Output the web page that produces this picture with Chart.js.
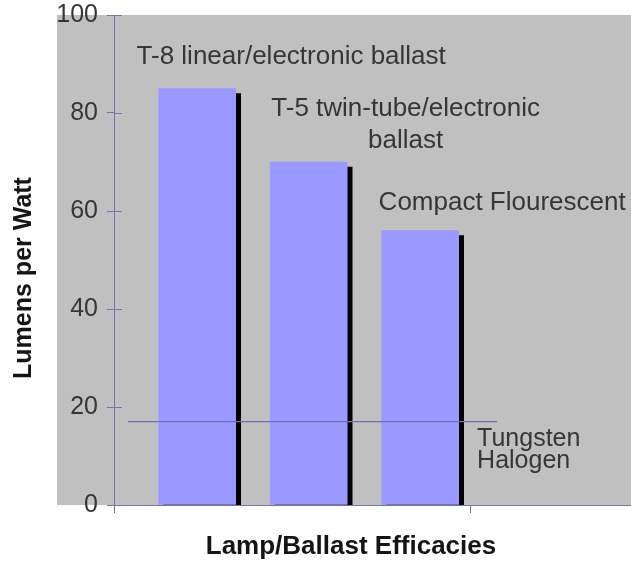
<!DOCTYPE html>
<html>
<head>
<meta charset="utf-8">
<script src="https://cdn.jsdelivr.net/npm/chart.js@4.4.1/dist/chart.umd.min.js"></script>
<style>
  html, body { margin: 0; padding: 0; background: #ffffff; }
  #wrap { width: 631px; height: 565px; position: relative; }
</style>
</head>
<body>
<div id="wrap"><canvas id="chart"></canvas></div>
<script>
// Lamp / ballast systems and their efficacy (lumens per watt)
const categories = ['T-8 linear/electronic ballast', 'T-5 twin-tube/electronic ballast', 'Compact Flourescent'];
const categoryLabelLines = [
  ['T-8 linear/electronic ballast'],
  ['T-5 twin-tube/electronic', 'ballast'],
  ['Compact Flourescent']
];
const efficacy = [85, 70, 56];

// Reference level for tungsten halogen lamps
const halogenLabelLines = ['Tungsten', 'Halogen'];
const halogenEfficacy = 17;
const halogenSpan = [0.38, 3.69];

// Axis ticks
const yTicks = [0, 20, 40, 60, 80, 100];
const xTickMarks = [3.45];

const yTitle = 'Lumens per Watt';
const xTitle = 'Lamp/Ballast Efficacies';

// Styling
const AXIS = '#7474ae';
const TEXT = '#363636';
const FONT = '"Liberation Sans", Arial, Helvetica, sans-serif';
const labelOffsets = [
  { dx: 94, dy: -32 },
  { dx: 97, dy: -53 },
  { dx: 82, dy: -28 }
];

const barData = categories.map((c, i) => ({ x: i + 1, y: efficacy[i] }));
const halogenData = halogenSpan.map(x => ({ x: x, y: halogenEfficacy }));

const plotDecor = {
  id: 'plotDecor',
  beforeDraw(chart) {
    const { ctx, chartArea: a } = chart;
    ctx.save();
    ctx.fillStyle = '#c0c0c0';
    ctx.fillRect(a.left - 57, a.top, chart.width - (a.left - 57), a.bottom - a.top);
    ctx.restore();
  },
  beforeDatasetDraw(chart, args) {
    if (args.index !== 0) return;
    const ctx = chart.ctx;
    ctx.save();
    ctx.shadowColor = '#000000';
    ctx.shadowOffsetX = 5;
    ctx.shadowOffsetY = 5;
    ctx.shadowBlur = 0;
  },
  afterDatasetDraw(chart, args) {
    if (args.index !== 0) return;
    chart.ctx.restore();
  },
  afterDraw(chart) {
    const { ctx, chartArea: a, scales: { x, y } } = chart;
    ctx.save();
    // inner halves of the value-axis tick marks
    ctx.strokeStyle = AXIS;
    ctx.lineWidth = 1;
    yTicks.forEach(v => {
      const py = Math.round(y.getPixelForValue(v)) + 0.5;
      ctx.beginPath();
      ctx.moveTo(a.left, py);
      ctx.lineTo(a.left + 8, py);
      ctx.stroke();
    });

    ctx.fillStyle = TEXT;
    ctx.textBaseline = 'middle';
    // bar captions
    ctx.font = '26px ' + FONT;
    ctx.textAlign = 'center';
    categoryLabelLines.forEach((lines, i) => {
      const cx = x.getPixelForValue(i + 1) + labelOffsets[i].dx;
      const cy = y.getPixelForValue(efficacy[i]) + labelOffsets[i].dy;
      lines.forEach((t, k) => ctx.fillText(t, cx, cy + k * 32));
    });
    // halogen caption
    ctx.textAlign = 'left';
    ctx.font = '25px ' + FONT;
    const hx = x.getPixelForValue(halogenSpan[1]) - 20;
    const hy = y.getPixelForValue(halogenEfficacy) + 17;
    halogenLabelLines.forEach((t, k) => ctx.fillText(t, hx, hy + k * 22));

    // axis titles
    ctx.fillStyle = '#151515';
    ctx.font = 'bold 25px ' + FONT;
    ctx.textAlign = 'center';
    ctx.save();
    ctx.translate(24, (a.top + a.bottom) / 2 + 18);
    ctx.rotate(-Math.PI / 2);
    ctx.fillText(yTitle, 0, 0);
    ctx.restore();
    ctx.font = 'bold 26px ' + FONT;
    ctx.fillText(xTitle, 351, a.bottom + 42);
    ctx.restore();
  }
};

new Chart(document.getElementById('chart'), {
  data: {
    datasets: [
      {
        type: 'bar',
        label: 'Efficacy',
        data: barData,
        backgroundColor: '#9999ff',
        borderWidth: 0,
        barThickness: 77,
        order: 1,
        clip: { left: false, top: false, right: false, bottom: 0 }
      },
      {
        type: 'line',
        label: 'Tungsten Halogen',
        data: halogenData,
        borderColor: '#6e6eb0',
        borderWidth: 1.2,
        pointRadius: 0,
        fill: false,
        order: 0
      }
    ]
  },
  options: {
    responsive: true,
    maintainAspectRatio: false,
    animation: false,
    devicePixelRatio: 1,
    layout: { padding: { top: 15, right: 0, left: 0, bottom: 0 } },
    plugins: { legend: { display: false }, tooltip: { enabled: false }, title: { display: false } },
    scales: {
      x: {
        type: 'linear',
        offset: false,
        min: 0.254,
        max: 4.891,
        afterFit(s) { s.height = 60; s.paddingLeft = 0; s.paddingRight = 0; },
        afterBuildTicks(s) { s.ticks = [{ value: s.min }].concat(xTickMarks.map(v => ({ value: v }))); },
        ticks: { callback: () => '', display: true },
        grid: { offset: false, drawOnChartArea: false, drawTicks: true, tickLength: 8, color: AXIS },
        border: { display: true, color: AXIS, width: 1 }
      },
      y: {
        type: 'linear',
        min: 0,
        max: 100,
        afterFit(s) { s.width = 114; s.paddingTop = 0; s.paddingBottom = 0; },
        afterBuildTicks(s) { s.ticks = yTicks.map(v => ({ value: v })); },
        ticks: { color: TEXT, font: { family: FONT, size: 25 }, padding: 9 },
        grid: { drawOnChartArea: false, drawTicks: true, tickLength: 7, color: AXIS },
        border: { display: true, color: AXIS, width: 1 }
      }
    }
  },
  plugins: [plotDecor]
});
</script>
</body>
</html>
